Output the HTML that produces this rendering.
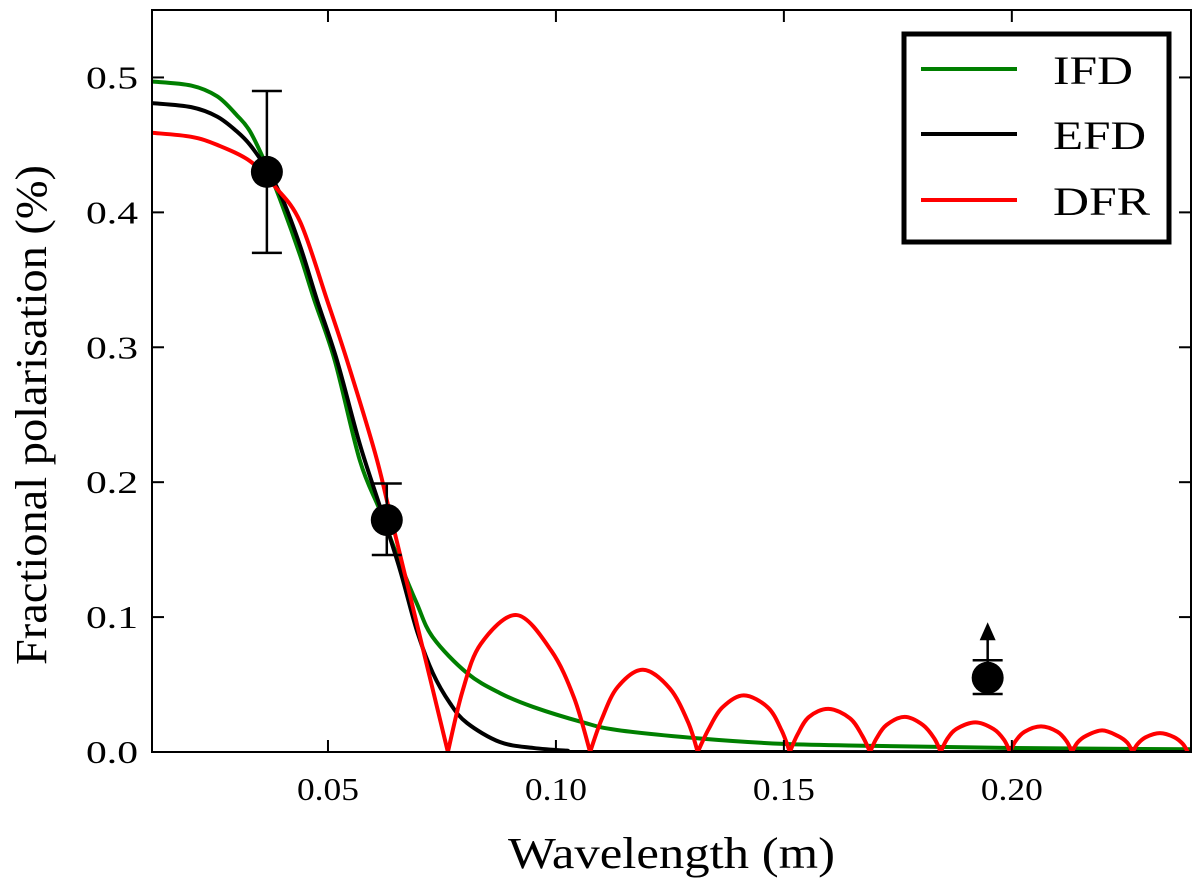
<!DOCTYPE html>
<html><head><meta charset="utf-8"><style>
html,body{margin:0;padding:0;background:#fff;}
svg text{font-family:"Liberation Serif",serif;fill:#000;}
</style></head><body>
<svg width="1200" height="886" viewBox="0 0 1200 886" id="chart">
<defs><clipPath id="clip"><rect x="152" y="10" width="1039" height="742"/></clipPath></defs>
<g id="curves" clip-path="url(#clip)"></g>
<g id="axes"></g>
<g id="points"></g>
<rect x="152" y="10" width="1039" height="742" fill="none" stroke="#000" stroke-width="2"/>
<g>
<rect x="904" y="34" width="265" height="208" fill="#fff" stroke="#000" stroke-width="5"/>
<line x1="921" y1="69" x2="1017" y2="69" stroke="#007f00" stroke-width="4"/>
<text x="1053" y="84" font-size="40" textLength="80" lengthAdjust="spacingAndGlyphs">IFD</text>
<line x1="921" y1="134" x2="1017" y2="134" stroke="#000" stroke-width="4"/>
<text x="1053" y="149" font-size="40" textLength="93" lengthAdjust="spacingAndGlyphs">EFD</text>
<line x1="921" y1="200" x2="1017" y2="200" stroke="#f00" stroke-width="4"/>
<text x="1053" y="215" font-size="40" textLength="97" lengthAdjust="spacingAndGlyphs">DFR</text>
</g>
<text x="508" y="868" font-size="44" textLength="327" lengthAdjust="spacingAndGlyphs">Wavelength (m)</text>
<text transform="translate(46,665) rotate(-90)" font-size="44" textLength="500" lengthAdjust="spacingAndGlyphs">Fractional polarisation (%)</text>
</svg>
<script>
const xTicks=[0.05,0.10,0.15,0.20];
const xTickLabels=["0.05","0.10","0.15","0.20"];
const yTicks=[0,0.1,0.2,0.3,0.4,0.5];
const yTickLabels=["0.0","0.1","0.2","0.3","0.4","0.5"];
const ifdX=[0.0114,0.02,0.0257,0.03,0.0329,0.0366,0.040,0.0439,0.0470,0.0515,0.0570,0.0614,0.0658,0.0695,0.0730,0.0805,0.0877,0.0950,0.1059,0.1134,0.1316,0.15,0.17,0.20,0.24];
const ifdY=[0.497,0.494,0.486,0.472,0.460,0.434,0.405,0.368,0.335,0.29,0.216,0.179,0.140,0.110,0.085,0.0585,0.0437,0.0334,0.022,0.0163,0.010,0.006,0.0045,0.003,0.002];
const efdX=[0.0114,0.02,0.0257,0.03,0.0329,0.0366,0.040,0.0439,0.0476,0.0520,0.0570,0.0614,0.0658,0.0695,0.0730,0.0768,0.0805,0.0877,0.0950,0.1024,0.11,0.24];
const efdY=[0.481,0.478,0.471,0.460,0.450,0.432,0.410,0.375,0.335,0.29,0.228,0.182,0.135,0.09,0.0585,0.036,0.0215,0.0074,0.003,0.001,0.0,0.0];
const dfrX=[0.0114,0.02,0.0257,0.0329,0.0384,0.0439,0.0498,0.0542,0.0603,0.0636,0.0700,0.0763,
0.0795,0.0835,0.0914,0.0990,0.1040,0.1075,
0.1100,0.1135,0.1191,0.1250,0.1290,0.1311,
0.1335,0.1365,0.1412,0.1465,0.1495,0.1513,
0.1530,0.1555,0.1598,0.1645,0.1672,0.1689,
0.1703,0.1725,0.1765,0.1805,0.1830,0.1844,
0.1857,0.1878,0.1920,0.1960,0.1983,0.1996,
0.2008,0.2028,0.2064,0.2100,0.2120,0.2132,
0.2144,0.2163,0.2198,0.2232,0.2253,0.2265,
0.2276,0.2294,0.2325,0.2356,0.2375,0.2386];
const dfrY=[0.459,0.456,0.450,0.438,0.419,0.393,0.335,0.29,0.222,0.177,0.088,0,
0.045,0.080,0.1015,0.075,0.040,0,
0.024,0.048,0.061,0.047,0.022,0,
0.017,0.033,0.042,0.033,0.016,0,
0.013,0.026,0.032,0.025,0.012,0,
0.010,0.020,0.026,0.020,0.010,0,
0.009,0.017,0.022,0.017,0.009,0,
0.008,0.015,0.019,0.015,0.008,0,
0.007,0.012,0.016,0.012,0.007,0,
0.006,0.011,0.014,0.011,0.006,0];
const ptX=[0.0366,0.0629,0.1947];
const ptY=[0.43,0.172,0.055];
const ptLo=[0.37,0.146,0.043];
const ptHi=[0.49,0.199,0.068];
const ptUpperLimit=[false,false,true];

const X0=0.0114,X1=0.2393,Y0=0,Y1=0.55;
const sx=v=>152+(v-X0)/(X1-X0)*1039;
const sy=v=>752-(v-Y0)/(Y1-Y0)*742;
const NS="http://www.w3.org/2000/svg";
function mk(tag,attrs,parent){const e=document.createElementNS(NS,tag);for(const k in attrs)e.setAttribute(k,attrs[k]);parent.appendChild(e);return e;}
const axes=document.getElementById('axes');
xTicks.forEach((t,i)=>{const x=sx(t);
 let l=mk('line',{x1:x,y1:752,x2:x,y2:740,stroke:'#000','stroke-width':2},axes);
 
 
 let l2=mk('line',{x1:x,y1:10,x2:x,y2:22,stroke:'#000','stroke-width':2},axes);
 
 
 let tx=mk('text',{x:x-31,y:800,'font-size':32,textLength:62,lengthAdjust:'spacingAndGlyphs'},axes);tx.textContent=xTickLabels[i];
 
 
});
yTicks.forEach((t,i)=>{const y=sy(t);
 let l=mk('line',{x1:152,y1:y,x2:164,y2:y,stroke:'#000','stroke-width':2},axes);
 
 
 let l2=mk('line',{x1:1191,y1:y,x2:1179,y2:y,stroke:'#000','stroke-width':2},axes);
 
 
 let tx=mk('text',{x:86,y:y+11,'font-size':32,textLength:52,lengthAdjust:'spacingAndGlyphs'},axes);tx.textContent=yTickLabels[i];
 
 
});
function crPath(P){if(P.length<2)return '';let d='M'+P[0][0]+','+P[0][1];
 for(let i=0;i<P.length-1;i++){const p0=P[i-1]||P[i],p1=P[i],p2=P[i+1],p3=P[i+2]||P[i+1];
  const c1=[p1[0]+(p2[0]-p0[0])/6,p1[1]+(p2[1]-p0[1])/6],c2=[p2[0]-(p3[0]-p1[0])/6,p2[1]-(p3[1]-p1[1])/6];
  d+=' C'+c1+' '+c2+' '+p2;}return d;}
function seriesPath(xs,ys,splitZeros){let segs=[],cur=[];
 xs.forEach((x,i)=>{cur.push([sx(x),sy(ys[i])]);if(splitZeros&&ys[i]===0&&i>0&&i<xs.length-1){segs.push(cur);cur=[[sx(x),sy(ys[i])]];}});
 segs.push(cur);return segs.map(crPath).join(' ');}
const cg=document.getElementById('curves');
let p1=mk('path',{d:seriesPath(ifdX,ifdY,false),fill:'none',stroke:'#007f00','stroke-width':4},cg);


let p2=mk('path',{d:seriesPath(efdX,efdY,false),fill:'none',stroke:'#000','stroke-width':4},cg);


let p3=mk('path',{d:seriesPath(dfrX,dfrY,true),fill:'none',stroke:'#f00','stroke-width':4,'stroke-linejoin':'round'},cg);


const pg=document.getElementById('points');
ptX.forEach((x,i)=>{const cx=sx(x),cy=sy(ptY[i]),lo=sy(ptLo[i]),hi=sy(ptHi[i]);
 const g=mk('g',{},pg);
 
 
 mk('line',{x1:cx,y1:lo,x2:cx,y2:hi,stroke:'#000','stroke-width':2.5},g);
 mk('line',{x1:cx-15,y1:lo,x2:cx+15,y2:lo,stroke:'#000','stroke-width':2.5},g);
 mk('line',{x1:cx-15,y1:hi,x2:cx+15,y2:hi,stroke:'#000','stroke-width':2.5},g);
 if(ptUpperLimit[i]){mk('line',{x1:cx,y1:hi,x2:cx,y2:hi-22,stroke:'#000','stroke-width':2.5},g);
  mk('polygon',{points:(cx-8)+','+(hi-20)+' '+(cx+8)+','+(hi-20)+' '+cx+','+(hi-38),fill:'#000'},g);}
 mk('circle',{cx:cx,cy:cy,r:16,fill:'#000'},g);
});
</script>
</body></html>
